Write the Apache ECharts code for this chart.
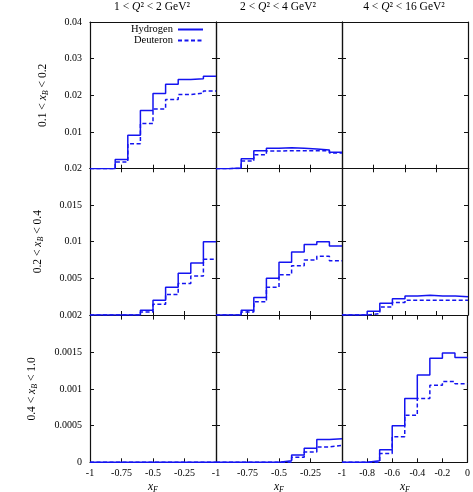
<!DOCTYPE html>
<html><head><meta charset="utf-8">
<script src="https://cdn.jsdelivr.net/npm/echarts@6/dist/echarts.min.js"></script>
<style>html,body{margin:0;padding:0;background:#fff}#c{width:473px;height:492px}</style>
</head><body><div id="c"></div>
<script>
// bin edges in x_F
const xEdges = [-1, -0.9, -0.8, -0.7, -0.6, -0.5, -0.4, -0.3, -0.2, -0.1, 0];
// column / row labels
const colTitles = ['1 < {i|Q}² < 2 GeV²', '2 < {i|Q}² < 4 GeV²', '4 < {i|Q}² < 16 GeV²'];
const rowTitles = ['0.1 < {i|x}{s|B} < 0.2', '0.2 < {i|x}{s|B} < 0.4', '0.4 < {i|x}{s|B} < 1.0'];
const rowMax = [0.04, 0.02, 0.002];
const rowInterval = [0.01, 0.005, 0.0005];
// row 1: 0.1 < xB < 0.2
const h_r1c1 = [0, 0, 0.0025, 0.0091, 0.0159, 0.0205, 0.0230, 0.0243, 0.0245, 0.0252];
const d_r1c1 = [0, 0, 0.0018, 0.0068, 0.0123, 0.0163, 0.0189, 0.0202, 0.0206, 0.0212];
const h_r1c2 = [0, 0.0002, 0.0027, 0.0049, 0.0056, 0.0057, 0.0056, 0.0054, 0.0051, 0.0045];
const d_r1c2 = [0, 0.0001, 0.0021, 0.0038, 0.0048, 0.0049, 0.0049, 0.0049, 0.0049, 0.0043];
const h_r1c3 = null;
const d_r1c3 = null;
// row 2: 0.2 < xB < 0.4
const h_r2c1 = [0, 0, 0, 0, 0.00064, 0.0020, 0.0038, 0.0057, 0.0071, 0.0100];
const d_r2c1 = [0, 0, 0, 0, 0.0004, 0.00145, 0.0028, 0.0043, 0.0053, 0.0076];
const h_r2c2 = [0, 0, 0.00064, 0.0024, 0.0050, 0.0072, 0.0086, 0.0096, 0.0100, 0.0094];
const d_r2c2 = [0, 0, 0.0004, 0.0018, 0.0038, 0.0055, 0.0067, 0.0075, 0.0080, 0.0074];
const h_r2c3 = [0, 0, 0.0005, 0.0016, 0.0022, 0.0026, 0.0027, 0.0026, 0.0026, 0.0025];
const d_r2c3 = [0, 0, 0.0002, 0.0011, 0.0017, 0.0020, 0.0020, 0.0020, 0.0020, 0.0020];
// row 3: 0.4 < xB < 1.0
const h_r3c1 = [0, 0, 0, 0, 0, 0, 0, 0, 0, 0];
const d_r3c1 = [0, 0, 0, 0, 0, 0, 0, 0, 0, 0];
const h_r3c2 = [0, 0, 0, 0, 0, 0.00002, 0.0001, 0.00019, 0.00031, 0.00032];
const d_r3c2 = [0, 0, 0, 0, 0, 0, 0.00007, 0.00014, 0.00021, 0.00023];
const h_r3c3 = [0, 0, 0.00002, 0.00017, 0.0005, 0.00087, 0.00119, 0.00142, 0.00149, 0.00143];
const d_r3c3 = [0, 0, 0, 0.00012, 0.00035, 0.00064, 0.00087, 0.00105, 0.0011, 0.00107];

const H = [[h_r1c1, h_r1c2, h_r1c3], [h_r2c1, h_r2c2, h_r2c3], [h_r3c1, h_r3c2, h_r3c3]];
const D = [[d_r1c1, d_r1c2, d_r1c3], [d_r2c1, d_r2c2, d_r2c3], [d_r3c1, d_r3c2, d_r3c3]];

const FONT = 'Liberation Serif';
const BLUE = '#1414f0';
const AX = '#111';
const colLeft = [90, 216, 342], colW = 126;
const rowTop = [22, 168.3, 315.6], rowH = 146.7;
const fmt = v => String(parseFloat(v.toFixed(6)));

function stepData(vals) {
  const d = vals.map((v, i) => [xEdges[i], v]);
  d.push([xEdges[xEdges.length - 1], vals[vals.length - 1]]);
  return d;
}

const grid = [], xAxis = [], yAxis = [], series = [];
for (let r = 0; r < 3; r++) {
  for (let c = 0; c < 3; c++) {
    const g = grid.length;
    grid.push({left: colLeft[c], top: rowTop[r], width: colW, height: rowH, containLabel: false});
    const xint = (c === 2 && r === 2) ? 0.2 : 0.25;
    const lineStyle = {color: AX, width: 1.2};
    const xb = xAxis.length;
    xAxis.push({
      type: 'value', gridIndex: g, position: 'bottom', min: -1, max: 0, interval: xint,
      axisLine: {show: true, onZero: false, lineStyle},
      axisTick: {show: true, inside: true, length: 4, lineStyle: {color: AX, width: 1}},
      axisLabel: {show: r === 2, margin: 6, color: '#000', fontFamily: FONT, fontSize: 10,
        formatter: v => (c < 2 && v === 0) ? '' : fmt(v)},
      splitLine: {show: false}
    });
    xAxis.push({
      type: 'value', gridIndex: g, position: 'top', min: -1, max: 0, interval: xint,
      axisLine: {show: true, onZero: false, lineStyle},
      axisTick: {show: r > 0, inside: true, length: 4, lineStyle: {color: AX, width: 1}},
      axisLabel: {show: false}, splitLine: {show: false}
    });
    const yl = yAxis.length;
    yAxis.push({
      type: 'value', gridIndex: g, position: 'left', min: 0, max: rowMax[r], interval: rowInterval[r],
      axisLine: {show: true, onZero: false, lineStyle},
      axisTick: {show: true, inside: true, length: 4, lineStyle: {color: AX, width: 1}},
      axisLabel: {show: c === 0, margin: 8, color: '#000', fontFamily: FONT, fontSize: 10,
        formatter: v => (r < 2 && v === 0) ? '' : fmt(v)},
      splitLine: {show: false}
    });
    yAxis.push({
      type: 'value', gridIndex: g, position: 'right', min: 0, max: rowMax[r], interval: rowInterval[r],
      axisLine: {show: true, onZero: false, lineStyle},
      axisTick: {show: true, inside: true, length: 4, lineStyle: {color: AX, width: 1}},
      axisLabel: {show: false}, splitLine: {show: false}
    });
    if (H[r][c]) {
      series.push({name: 'Hydrogen', type: 'line', step: 'end', xAxisIndex: xb, yAxisIndex: yl,
        data: stepData(H[r][c]), symbol: 'none', showSymbol: false, lineStyle: {color: BLUE, width: 1.5}, itemStyle: {color: BLUE},
        animation: false, z: 3});
      series.push({name: 'Deuteron', type: 'line', step: 'end', xAxisIndex: xb, yAxisIndex: yl,
        data: stepData(D[r][c]), symbol: 'none', showSymbol: false, lineStyle: {color: BLUE, width: 1.5, type: [4, 2.5]}, itemStyle: {color: BLUE},
        animation: false, z: 3});
    }
  }
}

const TF = 11.5;
const rich = {
  i: {fontStyle: 'italic', fontFamily: FONT, fontSize: TF, color: '#000'},
  s: {fontStyle: 'italic', fontFamily: FONT, fontSize: 8, color: '#000', verticalAlign: 'bottom', padding: [5, 0, 0, 0]}
};
const graphic = [];
const colCenters = colLeft.map(l => l + colW / 2);
colTitles.forEach((t, c) => graphic.push({type: 'text', x: colCenters[c] - 1, y: 7,
  style: {text: t, fontFamily: FONT, fontSize: TF, fill: '#000', textAlign: 'center', textVerticalAlign: 'middle', rich}}));
colCenters.forEach(cx => graphic.push({type: 'text', x: cx, y: 487,
  style: {text: '{i|x}{s|F}', fontFamily: FONT, fontSize: TF, fill: '#000', textAlign: 'center', textVerticalAlign: 'middle', rich}}));
const rowLabelX = [43, 38, 32];
rowTitles.forEach((t, r) => graphic.push({type: 'text', x: rowLabelX[r], y: rowTop[r] + rowH / 2, rotation: Math.PI / 2,
  style: {text: t, fontFamily: FONT, fontSize: TF, fill: '#000', textAlign: 'center', textVerticalAlign: 'middle', rich}}));

const chart = echarts.init(document.getElementById('c'));
chart.setOption({
  animation: false,
  backgroundColor: '#fff',
  legend: {data: ['Hydrogen', 'Deuteron'], orient: 'vertical', align: 'right', right: 269, top: 24,
    padding: 0, itemGap: 0, itemWidth: 25, itemHeight: 10, itemStyle: {opacity: 0},
    textStyle: {fontFamily: FONT, fontSize: 10.5, color: '#000', lineHeight: 10}},
  grid, xAxis, yAxis, series, graphic
});
</script></body></html>
